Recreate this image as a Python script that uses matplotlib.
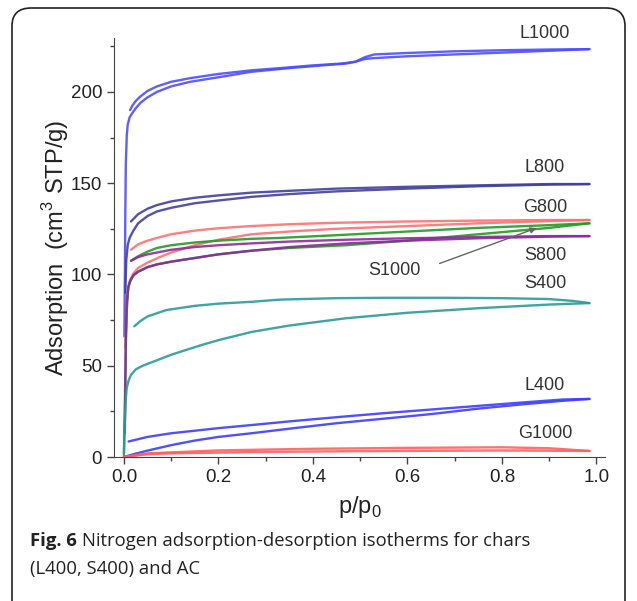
import matplotlib
matplotlib.use("Agg")
import matplotlib.pyplot as plt
from matplotlib.patches import FancyBboxPatch
from matplotlib.ticker import MultipleLocator, FormatStrFormatter

# ---- data (p/p0, adsorption cm3 STP/g) ----
L1000_ads_x = [0.001, 0.002, 0.003, 0.004, 0.006, 0.008, 0.012, 0.018, 0.025, 0.035, 0.05, 0.07, 0.1, 0.14, 0.2, 0.27, 0.35, 0.42, 0.47, 0.49, 0.51, 0.53, 0.6, 0.7, 0.8, 0.9, 0.985]
L1000_ads_y = [66, 100, 135, 160, 176, 182, 186, 188.5, 191, 194, 197, 200, 203, 205.5, 208, 211, 213, 214.5, 215.5, 216.5, 218, 218.5, 219.5, 220.5, 221.5, 222.5, 223.4]
L1000_des_x = [0.985, 0.9, 0.8, 0.7, 0.6, 0.53, 0.51, 0.49, 0.46, 0.4, 0.33, 0.27, 0.2, 0.14, 0.1, 0.07, 0.05, 0.035, 0.025, 0.018, 0.013]
L1000_des_y = [223.4, 223.2, 222.8, 222.2, 221.3, 220.5, 219, 216.5, 215.5, 214.5, 213, 211.8, 209.8, 207.5, 205.5, 203, 200.5, 197.5, 195, 192.5, 190]

L800_ads_x = [0.003, 0.005, 0.008, 0.012, 0.02, 0.03, 0.05, 0.07, 0.1, 0.15, 0.2, 0.27, 0.35, 0.45, 0.6, 0.75, 0.9, 0.985]
L800_ads_y = [90, 108, 116, 120, 124, 128, 132, 134.5, 136.5, 139, 140.5, 142.5, 144, 145.5, 147, 148.3, 149.2, 149.5]
L800_des_x = [0.985, 0.9, 0.75, 0.6, 0.45, 0.35, 0.27, 0.2, 0.15, 0.1, 0.07, 0.05, 0.03, 0.015]
L800_des_y = [149.5, 149.5, 148.8, 148, 147, 145.8, 144.8, 143.3, 142, 140, 138, 136, 133, 129]

G800_ads_x = [0.003, 0.006, 0.01, 0.015, 0.02, 0.03, 0.05, 0.076, 0.1, 0.15, 0.2, 0.27, 0.35, 0.45, 0.6, 0.75, 0.9, 0.985]
G800_ads_y = [60, 85, 94, 98, 100.5, 103.5, 106.5, 109.5, 112, 116, 119, 122, 123.5, 125, 126.5, 128, 129.2, 129.8]
G800_des_x = [0.985, 0.9, 0.75, 0.6, 0.45, 0.35, 0.27, 0.2, 0.15, 0.1, 0.07, 0.05, 0.03, 0.015]
G800_des_y = [129.8, 129.8, 129.5, 129, 128.3, 127.5, 126.5, 125.3, 124, 122, 120, 118.5, 116.5, 113.5]

S1000_ads_x = [0.0, 0.002, 0.004, 0.006, 0.009, 0.013, 0.02, 0.03, 0.05, 0.07, 0.1, 0.15, 0.2, 0.27, 0.35, 0.47, 0.6, 0.75, 0.9, 0.985]
S1000_ads_y = [1, 30, 60, 80, 92, 96, 99.5, 101.5, 104, 105.5, 107, 109, 111, 113, 114.5, 116, 118.5, 122, 125.5, 128]
S1000_des_x = [0.985, 0.9, 0.75, 0.6, 0.45, 0.33, 0.27, 0.2, 0.15, 0.1, 0.07, 0.05, 0.03, 0.015]
S1000_des_y = [128, 127, 125.5, 123.5, 121.5, 120, 119.5, 118.5, 117.5, 116, 114.5, 112.5, 110, 107.5]

S800_ads_x = [0.002, 0.003, 0.004, 0.006, 0.009, 0.013, 0.02, 0.03, 0.05, 0.07, 0.1, 0.15, 0.2, 0.27, 0.35, 0.47, 0.6, 0.75, 0.9, 0.985]
S800_ads_y = [13, 40, 65, 85, 93, 96.5, 99.5, 101.5, 104, 105.5, 107, 109, 111, 113, 115, 117, 118.5, 119.8, 120.7, 121]
S800_des_x = [0.985, 0.9, 0.75, 0.6, 0.47, 0.35, 0.27, 0.2, 0.15, 0.1, 0.07, 0.05, 0.03, 0.015]
S800_des_y = [121, 121, 120.5, 119.8, 119, 118, 117, 116, 115, 113.5, 112, 111, 109.5, 107.5]

S400_ads_x = [0.0, 0.002, 0.004, 0.006, 0.01, 0.015, 0.025, 0.04, 0.055, 0.08, 0.1, 0.13, 0.16, 0.2, 0.27, 0.35, 0.47, 0.6, 0.75, 0.9, 0.985]
S400_ads_y = [2, 20, 32, 38, 42, 45, 48, 50, 51.5, 54, 56, 58.5, 61, 64, 68.5, 72, 76, 79, 81.5, 83.5, 84.3]
S400_des_x = [0.985, 0.95, 0.9, 0.8, 0.68, 0.55, 0.45, 0.33, 0.27, 0.2, 0.15, 0.09, 0.05, 0.035, 0.022]
S400_des_y = [84.3, 85.5, 86.5, 87, 87.2, 87.2, 87, 86.2, 85, 84, 82.8, 80.5, 77, 74.5, 71.6]

L400_ads_x = [0.0, 0.02, 0.05, 0.1, 0.15, 0.2, 0.27, 0.35, 0.45, 0.55, 0.65, 0.75, 0.85, 0.93, 0.985]
L400_ads_y = [0, 1.5, 3.5, 6.5, 9, 11, 13, 15.5, 18.5, 21, 23.5, 26.5, 29, 30.8, 31.8]
L400_des_x = [0.985, 0.93, 0.85, 0.75, 0.65, 0.55, 0.45, 0.35, 0.27, 0.2, 0.1, 0.05, 0.01]
L400_des_y = [31.8, 31.5, 30, 28, 26, 24, 21.8, 19.5, 17.5, 15.8, 13, 11, 8.5]

G1000_ads_x = [0.0, 0.05, 0.1, 0.3, 0.5, 0.8, 0.985]
G1000_ads_y = [0, 1.5, 2, 2.8, 3.2, 3.6, 3.3]
G1000_des_x = [0.985, 0.9, 0.8, 0.6, 0.4, 0.2, 0.05, 0.0]
G1000_des_y = [3.3, 4.8, 5.3, 5, 4.5, 3.6, 2, 0]

series = [
    ("L1000", L1000_ads_x, L1000_ads_y, L1000_des_x, L1000_des_y, "#4d4dff"),
    ("L800", L800_ads_x, L800_ads_y, L800_des_x, L800_des_y, "#40409e"),
    ("G800", G800_ads_x, G800_ads_y, G800_des_x, G800_des_y, "#ff7070"),
    ("S1000", S1000_ads_x, S1000_ads_y, S1000_des_x, S1000_des_y, "#239a23"),
    ("S800", S800_ads_x, S800_ads_y, S800_des_x, S800_des_y, "#8c2a9e"),
    ("S400", S400_ads_x, S400_ads_y, S400_des_x, S400_des_y, "#2a9a98"),
    ("L400", L400_ads_x, L400_ads_y, L400_des_x, L400_des_y, "#3d3dff"),
    ("G1000", G1000_ads_x, G1000_ads_y, G1000_des_x, G1000_des_y, "#ff6060"),
]

label_names = ["L1000", "L800", "G800", "S800", "S400", "L400", "G1000"]
label_y_px = [33, 168, 208, 255, 283, 386, 433]

plt.rcParams['font.family'] = ['Liberation Sans', 'DejaVu Sans']

W, H = 637, 601
fig = plt.figure(figsize=(W / 100, H / 100), dpi=100)

# rounded frame
frame = FancyBboxPatch((12 / W, -0.05), (625 - 12) / W, (601 - 8) / H + 0.05,
                       boxstyle="round,pad=0,rounding_size=0.03",
                       transform=fig.transFigure, fill=False, edgecolor="#222222", linewidth=1.2)
fig.patches.append(frame)

ax = fig.add_axes([114 / W, (H - 457) / H, (605 - 114) / W, (457 - 38) / H])
for name, xa, ya, xd, yd, c in series:
    ax.plot(xa, ya, color=c, lw=1.7, alpha=0.9, solid_capstyle="round", solid_joinstyle="round")
    ax.plot(xd, yd, color=c, lw=1.7, alpha=0.9, solid_capstyle="round", solid_joinstyle="round")

ax.set_xlim(-0.021, 1.018)
ax.set_ylim(0, 229.5)
ax.spines['top'].set_visible(False)
ax.spines['right'].set_visible(False)
ax.spines['left'].set_color("#444444")
ax.spines['bottom'].set_color("#444444")
ax.xaxis.set_major_locator(MultipleLocator(0.2))
ax.xaxis.set_minor_locator(MultipleLocator(0.1))
ax.yaxis.set_major_locator(MultipleLocator(50))
ax.yaxis.set_minor_locator(MultipleLocator(25))
ax.tick_params(which='both', direction='out', color="#444444", width=1)
ax.tick_params(which='major', length=5, labelsize=13.5, labelcolor="#222222")
ax.tick_params(which='minor', length=3)
ax.xaxis.set_major_formatter(FormatStrFormatter('%.1f'))

ax.set_xlabel(r"p/p$_\mathregular{0}$", fontsize=17, color="#222222", labelpad=6)
ax.set_ylabel(r"Adsorption  (cm$^\mathregular{3}$ STP/g)", fontsize=17, color="#222222", labelpad=0)

for name, ypx in zip(label_names, label_y_px):
    fig.text(545 / W, 1 - ypx / H, name, fontsize=13, color="#333333", ha="center", va="center")

ax.text(0.573, 102.4, "S1000", fontsize=13, color="#333333", ha="center", va="center")
ax.annotate("", xy=(0.873, 125.4), xytext=(0.668, 106),
            arrowprops=dict(arrowstyle="-|>", color="#666666", lw=1, shrinkA=0, shrinkB=0,
                            mutation_scale=9))

# caption
cap_y1 = 1 - 541 / H
cap_y2 = 1 - 569 / H
t_bold = fig.text(30 / W, cap_y1, "Fig. 6", fontsize=13.3, ha="left", va="center",
                  family="Open Sans", weight="bold", color="#222222")
fig.canvas.draw()
bb = t_bold.get_window_extent(renderer=fig.canvas.get_renderer())
fig.text((bb.x1 + 5) / W, cap_y1, "Nitrogen adsorption-desorption isotherms for chars",
         fontsize=13.3, ha="left", va="center", family="Open Sans", color="#222222")
fig.text(30 / W, cap_y2, "(L400, S400) and AC", fontsize=13.3, ha="left", va="center",
         family="Open Sans", color="#222222")

fig.savefig("out.png", dpi=100)
